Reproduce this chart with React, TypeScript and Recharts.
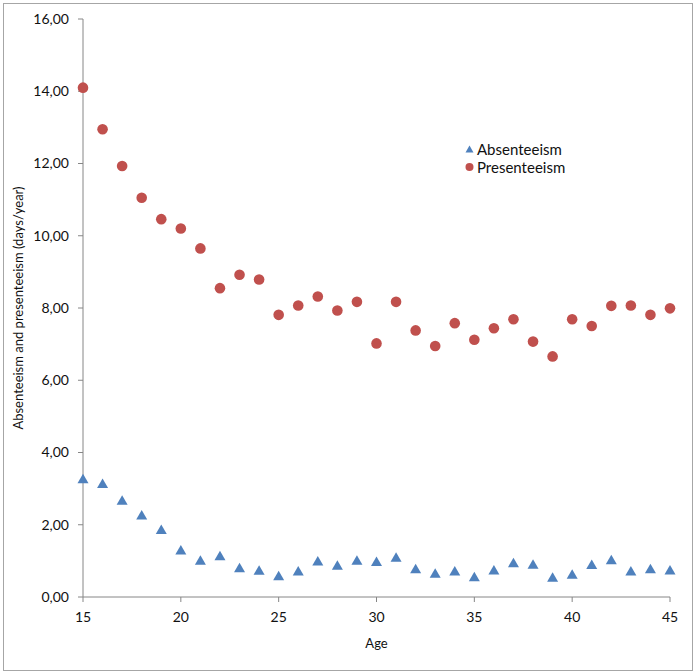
import { ScatterChart, Scatter, XAxis, YAxis } from 'recharts'

const ages = [15, 16, 17, 18, 19, 20, 21, 22, 23, 24, 25, 26, 27, 28, 29, 30, 31, 32, 33, 34, 35, 36, 37, 38, 39, 40, 41, 42, 43, 44, 45]
const absenteeism = [3.27, 3.14, 2.68, 2.27, 1.87, 1.3, 1.02, 1.14, 0.81, 0.74, 0.59, 0.72, 1.0, 0.88, 1.02, 0.98, 1.1, 0.78, 0.66, 0.72, 0.56, 0.75, 0.95, 0.91, 0.55, 0.63, 0.9, 1.03, 0.72, 0.78, 0.75]
const presenteeism = [14.1, 12.95, 11.93, 11.05, 10.46, 10.2, 9.65, 8.55, 8.92, 8.79, 7.81, 8.07, 8.32, 7.93, 8.17, 7.02, 8.17, 7.38, 6.95, 7.58, 7.12, 7.44, 7.69, 7.07, 6.66, 7.69, 7.5, 8.06, 8.07, 7.81, 7.99]
const xTicks = [15, 20, 25, 30, 35, 40, 45]
const yTicks = [0, 2, 4, 6, 8, 10, 12, 14, 16]

const BLUE = '#4F81BD'
const RED = '#C0504D'
const FONT = 'Lato, "Open Sans", sans-serif'

const absData = ages.map((a, i) => ({ age: a, value: absenteeism[i] }))
const presData = ages.map((a, i) => ({ age: a, value: presenteeism[i] }))

const Triangle = (props: any) => {
  const { cx, cy } = props
  return <polygon points={`${cx},${cy - 5} ${cx + 5.5},${cy + 4.5} ${cx - 5.5},${cy + 4.5}`} fill={BLUE} />
}

const Dot = (props: any) => {
  const { cx, cy } = props
  return <circle cx={cx} cy={cy} r={5.3} fill={RED} />
}

const fmt = (v: number) => v.toFixed(2).replace('.', ',')

export default function App() {
  return (
    <div style={{ position: 'absolute', left: 0, top: 0, width: 695, height: 672, background: '#fff', fontFamily: FONT }}>
      <div style={{ position: 'absolute', left: 3, top: 3, width: 688, height: 666, border: '1px solid #a6a6a6' }} />
      <ScatterChart width={695} height={672} margin={{ top: 19, right: 25, bottom: 20, left: 0 }}>
        <XAxis
          type="number"
          dataKey="age"
          domain={[15, 45]}
          ticks={xTicks}
          stroke="#868686"
          tickSize={5}
          tickMargin={10}
          tick={{ fill: '#111', fontSize: 14, fontFamily: FONT }}
          height={55}
          label={{ value: 'Age', position: 'insideBottom', offset: 4, style: { fill: '#111', fontSize: 13, fontFamily: FONT } }}
        />
        <YAxis
          type="number"
          dataKey="value"
          domain={[0, 16]}
          ticks={yTicks}
          tickFormatter={fmt}
          stroke="#868686"
          tickSize={5}
          tickMargin={9}
          width={83}
          tick={{ fill: '#111', fontSize: 14, fontFamily: FONT }}
          label={{
            value: 'Absenteeism and presenteeism (days/year)',
            angle: -90,
            position: 'insideLeft',
            offset: 18,
            style: { textAnchor: 'middle', fill: '#111', fontSize: 13, fontFamily: FONT },
          }}
        />
        <Scatter name="Absenteeism" data={absData} shape={<Triangle />} isAnimationActive={false} />
        <Scatter name="Presenteeism" data={presData} shape={<Dot />} isAnimationActive={false} />
      </ScatterChart>
      <div style={{ position: 'absolute', left: 464, top: 140, fontSize: 15, color: '#111', lineHeight: '18px' }}>
        <div style={{ display: 'flex', alignItems: 'center' }}>
          <svg width={11} height={12} style={{ marginRight: 2 }}>
            <polygon points="5.5,2.5 9.5,9.5 1.5,9.5" fill={BLUE} />
          </svg>
          Absenteeism
        </div>
        <div style={{ display: 'flex', alignItems: 'center' }}>
          <svg width={11} height={12} style={{ marginRight: 2 }}>
            <circle cx={5.5} cy={6} r={4} fill={RED} />
          </svg>
          Presenteeism
        </div>
      </div>
    </div>
  )
}
